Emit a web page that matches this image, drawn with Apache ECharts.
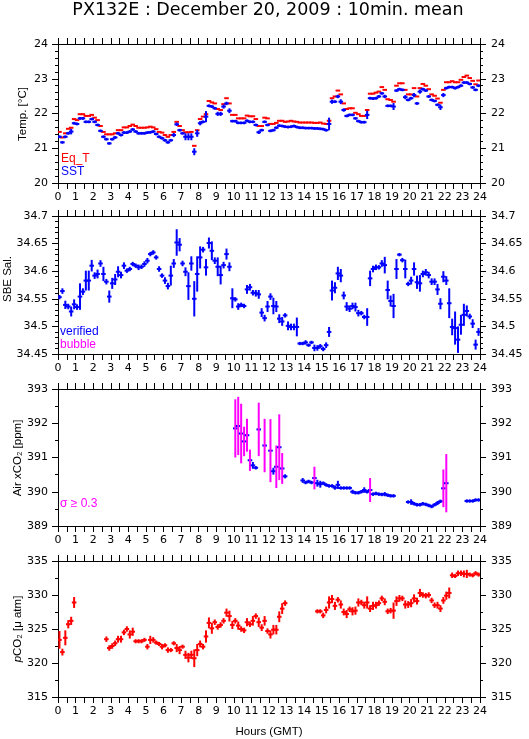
<!DOCTYPE html>
<html>
<head>
<meta charset="utf-8">
<script src="https://cdn.jsdelivr.net/npm/echarts@6/dist/echarts.min.js"></script>
<style>
body{margin:0;background:#fff}
#chart{width:529px;height:739px}
</style>
</head>
<body>
<div id="chart"></div>
<script>
// 10 minute bins, 6 per hour, one row per hour
var binsPerHour = 6;

var eqT = [
21.47,21.31,21.43,21.56,21.59,21.84,
21.81,21.98,21.98,21.93,21.93,21.96,
21.88,21.81,21.64,21.47,21.40,21.40,
21.40,21.43,21.52,21.52,21.60,21.60,
21.64,21.68,21.64,21.59,21.59,21.59,
21.60,21.62,21.60,21.55,21.47,21.45,
21.38,21.33,21.38,21.47,21.76,21.64,
21.52,21.46,21.46,21.47,21.07,21.52,
21.84,21.91,21.98,22.36,22.32,22.29,
22.13,22.10,22.27,22.44,22.29,21.96,
21.96,21.86,21.86,21.86,21.94,21.92,
21.92,21.84,21.64,21.64,21.88,21.86,
21.70,21.70,21.73,21.79,21.79,21.76,
21.77,21.79,21.77,21.76,21.74,21.74,
21.74,21.74,21.74,21.73,21.73,21.74,
21.71,21.70,21.79,22.44,22.49,22.66,
22.55,22.29,22.13,22.15,22.15,22.02,
21.98,21.93,21.93,22.10,22.57,22.57,
22.60,22.63,22.76,22.68,22.41,22.39,
22.34,22.80,22.87,22.87,22.68,22.55,
22.55,22.73,22.49,22.73,22.85,22.80,
22.70,22.55,22.51,22.43,22.31,22.68,
22.90,22.90,22.93,22.90,22.90,22.97,
23.05,23.09,23.02,22.94,22.84,22.95];

var sst = [
21.33,21.17,21.33,21.43,21.48,21.72,
21.70,21.86,21.86,21.76,21.76,21.84,
21.76,21.67,21.50,21.33,21.26,21.14,
21.26,21.31,21.43,21.38,21.45,21.45,
21.48,21.54,21.48,21.43,21.43,21.43,
21.45,21.46,21.48,21.41,21.33,21.29,
21.23,21.17,21.23,21.38,21.69,21.52,
21.43,21.33,21.33,21.33,20.90,21.43,
21.72,21.76,21.91,22.22,22.20,22.15,
21.99,21.99,22.20,22.29,22.08,21.78,
21.78,21.73,21.73,21.73,21.79,21.76,
21.76,21.67,21.46,21.52,21.76,21.67,
21.50,21.52,21.59,21.65,21.64,21.62,
21.61,21.62,21.64,21.61,21.59,21.59,
21.58,21.58,21.58,21.57,21.57,21.56,
21.55,21.52,21.70,22.34,22.34,22.49,
22.34,22.10,21.93,21.96,21.96,21.86,
21.78,21.75,21.75,21.96,22.44,22.43,
22.44,22.49,22.58,22.49,22.22,22.22,
22.20,22.66,22.70,22.68,22.47,22.39,
22.44,22.53,22.29,22.63,22.70,22.66,
22.49,22.39,22.36,22.25,22.18,22.53,
22.73,22.76,22.76,22.73,22.76,22.80,
22.89,22.89,22.85,22.75,22.68,22.80];

var sstSd = [
.04,.04,.04,.04,.08,.04,
.04,.04,.04,.04,.04,.04,
.04,.04,.04,.04,.04,.04,
.04,.04,.04,.04,.04,.04,
.04,.04,.04,.04,.04,.04,
.04,.04,.04,.04,.04,.04,
.04,.04,.04,.06,.05,.04,
.04,.10,.10,.10,.10,.10,
.06,.04,.16,.04,.04,.04,
.06,.06,.06,.05,.07,.04,
.04,.04,.04,.04,.04,.04,
.04,.04,.05,.04,.04,.04,
.04,.04,.04,.04,.04,.04,
.04,.04,.04,.04,.04,.04,
.04,.04,.04,.04,.04,.04,
.04,.04,.18,.06,.04,.05,
.07,.05,.04,.04,.04,.04,
.04,.04,.04,.12,.04,.04,
.04,.04,.04,.05,.04,.04,
.10,.04,.04,.04,.06,.04,
.04,.06,.04,.06,.04,.04,
.04,.04,.04,.04,.08,.06,
.04,.04,.04,.04,.04,.04,
.04,.04,.04,.04,.04,.04];

var sal = [
34.553,34.564,34.539,34.536,34.527,34.540,
34.535,34.554,34.563,34.583,34.583,34.610,
34.592,34.595,34.614,34.595,34.581,34.554,
34.578,34.585,34.599,34.593,34.610,34.601,
34.604,34.613,34.610,34.607,34.608,34.613,
34.619,34.631,34.634,34.625,34.604,34.592,
34.583,34.573,34.592,34.614,34.652,34.648,
34.614,34.599,34.573,34.614,34.550,34.595,
34.625,34.639,34.607,34.651,34.637,34.619,
34.608,34.593,34.611,34.631,34.608,34.551,
34.549,34.536,34.539,34.537,34.567,34.571,
34.561,34.560,34.558,34.525,34.515,34.536,
34.554,34.537,34.536,34.514,34.509,34.520,
34.501,34.499,34.499,34.499,34.469,34.469,
34.471,34.466,34.471,34.461,34.461,34.464,
34.459,34.466,34.490,34.565,34.570,34.596,
34.592,34.556,34.536,34.532,34.537,34.535,
34.524,34.524,34.517,34.517,34.587,34.604,
34.607,34.607,34.614,34.611,34.566,34.546,
34.537,34.604,34.630,34.620,34.604,34.577,
34.583,34.604,34.580,34.578,34.595,34.598,
34.593,34.581,34.581,34.567,34.541,34.590,
34.583,34.542,34.499,34.497,34.476,34.503,
34.521,34.528,34.518,34.505,34.467,34.490];

var salSd = [
.004,.005,.0075,.005,.009,.009,
.005,.024,.006,.018,.018,.0105,
.006,.008,.006,.013,.005,.011,
.01,.01,.01,.006,.006,.004,
.004,.004,.004,.005,.004,.005,
.005,.004,.004,.004,.005,.004,
.006,.006,.018,.008,.024,.012,
.005,.008,.025,.013,.032,.032,
.02,.005,.015,.01,.017,.006,
.017,.017,.006,.01,.008,.018,
.004,.006,.004,.004,.008,.006,
.005,.006,.008,.008,.006,.01,
.006,.015,.01,.008,.008,.004,
.008,.006,.006,.017,.003,.003,
.004,.003,.003,.006,.005,.004,
.004,.005,.009,.018,.01,.012,
.012,.007,.008,.006,.006,.008,
.006,.004,.004,.016,.014,.006,
.005,.004,.006,.015,.017,.01,
.022,.018,.003,.004,.017,.004,
.007,.012,.012,.015,.006,.006,
.006,.006,.006,.01,.01,.01,
.008,.027,.015,.03,.024,.018,
.02,.01,.005,.008,.009,.007];

var airCO2 = [
null,null,null,null,null,null,
null,null,null,null,null,null,
null,null,null,null,null,null,
null,null,null,null,null,null,
null,null,null,null,null,null,
null,null,null,null,null,null,
null,null,null,null,null,null,
null,null,null,null,null,null,
null,null,null,null,null,null,
null,null,null,null,null,null,
391.85,391.92,391.70,391.47,391.65,390.92,
390.77,390.70,391.82,null,391.35,null,
391.20,390.60,390.73,391.30,390.68,390.45,
null,null,null,null,null,390.33,
390.27,390.30,390.27,390.40,390.25,390.22,
390.25,390.20,390.17,390.17,390.12,390.20,
390.11,390.11,390.11,390.11,390.00,389.97,
389.97,390.00,390.05,390.00,390.05,389.93,
389.95,389.93,389.92,389.93,389.90,389.88,
389.88,null,null,null,null,389.70,
389.70,389.65,389.62,389.62,389.65,389.63,
389.60,389.57,389.62,389.67,389.72,390.10,
390.25,null,null,null,null,null,
null,389.73,389.73,389.73,389.76,389.76];

var airSd = [
0,0,0,0,0,0, 0,0,0,0,0,0, 0,0,0,0,0,0, 0,0,0,0,0,0, 0,0,0,0,0,0,
0,0,0,0,0,0, 0,0,0,0,0,0, 0,0,0,0,0,0, 0,0,0,0,0,0, 0,0,0,0,0,0,
.85,.85,.87,.43,.48,.31,
.10,.05,.78,0,.78,0,
.92,.10,.62,.96,.45,.06,
0,0,0,0,0,.07,
.05,.05,.05,.33,.10,.10,
.05,.05,.05,.05,.06,.12,
.05,.05,.05,.05,.06,.05,
.05,.05,.08,.05,.35,.05,
.05,.05,.05,.06,.05,.05,
.05,0,0,0,0,.05,
.08,.05,.05,.05,.05,.05,
.05,.05,.05,.06,.05,.55,
.85,0,0,0,0,0,
0,.05,.05,.05,.05,.05];

var pCO2 = [
323.4,321.6,323.7,325.7,326.2,328.9,
null,null,null,null,null,null,
null,null,null,null,323.5,322.2,
322.5,322.9,323.5,323.5,324.5,325.0,
324.2,324.6,323.2,323.2,323.2,323.4,
322.4,323.4,323.4,323.0,322.8,322.4,
322.6,321.9,321.9,322.9,322.2,321.9,
322.4,321.2,320.8,321.2,320.7,321.9,
322.8,322.4,323.9,325.9,325.1,326.0,
325.3,325.6,326.2,327.4,326.9,325.6,
326.2,325.5,325.0,324.8,326.0,325.7,
326.2,326.9,326.0,325.2,326.2,324.7,
324.2,324.9,324.9,326.8,328.0,328.8,
null,null,null,null,null,null,
null,null,null,null,327.6,327.6,
327.0,327.8,328.9,329.4,328.4,329.3,
328.6,327.5,327.2,327.9,327.6,327.7,
328.9,328.9,328.5,328.9,328.0,328.4,
328.5,328.8,329.5,329.0,327.6,327.7,
327.7,329.1,329.5,329.5,328.6,328.6,
328.8,329.5,329.1,330.3,330.0,329.9,
330.0,329.2,328.5,328.5,328.0,329.2,
329.9,330.3,332.9,332.8,333.2,333.2,
333.1,333.1,333.0,332.9,333.2,333.0];

var pCO2Sd = [
1.3,.5,1.1,.6,.6,.8,
0,0,0,0,0,0,
0,0,0,0,.4,.4,
.4,.4,.5,.5,.4,.4,
.6,.6,.3,.3,.3,.3,
.4,.6,.4,.3,.3,.4,
.3,.4,.3,.3,.6,.6,
.3,.6,.7,.6,1.3,.9,
.5,.4,.9,.8,.8,.4,
.4,.4,.4,.6,.8,.6,
.4,.6,.4,.4,.6,.4,
.7,.4,.7,.5,.7,.4,
.6,.7,.7,.8,.8,.4,
0,0,0,0,0,0,
0,0,0,0,.3,.3,
.4,.5,.9,.6,.6,.4,
.6,.5,.6,.4,.6,.6,
.6,.4,.5,.9,.5,.6,
.5,.4,.4,.5,.4,.4,
1.2,.7,.5,.4,.6,.5,
.6,.6,.5,.6,.4,.4,
.4,.4,.4,.5,.5,.5,
.6,.8,.4,.3,.4,.4,
.5,.6,.3,.3,.3,.3];

var FONT = '"DejaVu Sans", sans-serif';
var SANS = '"Liberation Sans", Arial, sans-serif';
var RED = '#ff0000', BLUE = '#0000ff', MAGENTA = '#ff00ff';

// nameX / nameY: centre of the rotated y axis title
var panels = [
  {top: 44,  height: 139, min: 20,    max: 24,   interval: 1,    minor: 5, name: 'Temp. [°C]',        nameX: 23,  nameY: 114},
  {top: 216, height: 138, min: 34.45, max: 34.7, interval: 0.05, minor: 5, name: 'SBE Sal.',          nameX: 8,   nameY: 279},
  {top: 389, height: 137, min: 389,   max: 393,  interval: 1,    minor: 2, name: 'Air xCO₂ [ppm]',    nameX: 18,  nameY: 458},
  {top: 561, height: 137, min: 315,   max: 335,  interval: 5,    minor: 2, name: '{i|p}CO₂ [μ atm]', nameX: 18,  nameY: 629}
];

function toData(vals, sds) {
  var out = [];
  for (var i = 0; i < vals.length; i++) {
    if (vals[i] == null) continue;
    out.push([(i + 0.5) / binsPerHour, vals[i], sds ? sds[i] : 0]);
  }
  return out;
}

// horizontal dash across the bin plus vertical bar for the std dev
function plusMark(hColor, vColorFn) {
  var half = 0.13;
  return function (params, api) {
    var t = api.value(0), v = api.value(1), sd = api.value(2);
    var a = api.coord([t - half, v]);
    var b = api.coord([t + half, v]);
    var kids = [{
      type: 'line',
      shape: {x1: a[0], y1: a[1], x2: b[0], y2: b[1]},
      style: {stroke: hColor, lineWidth: 2}
    }];
    if (sd > 0) {
      var lo = api.coord([t, v - sd]);
      var hi = api.coord([t, v + sd]);
      kids.push({
        type: 'line',
        shape: {x1: lo[0], y1: lo[1], x2: hi[0], y2: hi[1]},
        style: {stroke: vColorFn(sd), lineWidth: 2}
      });
    }
    return {type: 'group', children: kids};
  };
}

var grids = [], xAxes = [], yAxes = [], axisTitles = [];
panels.forEach(function (p, gi) {
  grids.push({left: 58, width: 422, top: p.top, height: p.height});
  ['bottom', 'top'].forEach(function (pos) {
    var isBottom = pos === 'bottom';
    xAxes.push({
      type: 'value', gridIndex: gi, position: pos, min: 0, max: 24, interval: 1,
      axisLine: {show: true, onZero: false, lineStyle: {color: '#000', width: 1}},
      axisTick: {show: true, length: 6, lineStyle: {color: '#000'}},
      minorTick: {show: true, splitNumber: 2, length: 6, lineStyle: {color: '#000'}},
      axisLabel: {show: isBottom, color: '#000', fontSize: 11, fontFamily: FONT, margin: 9,
                  showMinLabel: true, showMaxLabel: true},
      splitLine: {show: false},
      name: (isBottom && gi === 3) ? 'Hours (GMT)' : '',
      nameLocation: 'middle', nameGap: 29,
      nameTextStyle: {color: '#000', fontSize: 11.5, fontFamily: SANS}
    });
  });
  ['left', 'right'].forEach(function (pos) {
    yAxes.push({
      type: 'value', gridIndex: gi, position: pos, min: p.min, max: p.max, interval: p.interval,
      axisLine: {show: true, onZero: false, lineStyle: {color: '#000', width: 1}},
      axisTick: {show: true, length: 6, lineStyle: {color: '#000'}},
      minorTick: {show: true, splitNumber: p.minor, length: 3, lineStyle: {color: '#000'}},
      axisLabel: {color: '#000', fontSize: 11, fontFamily: FONT, margin: pos === 'left' ? 10 : 11,
                  showMinLabel: true, showMaxLabel: true},
      splitLine: {show: false}
    });
  });
  axisTitles.push({
    type: 'text', x: p.nameX, y: p.nameY, rotation: Math.PI / 2,
    style: {text: p.name, fill: '#000', font: '11.5px ' + SANS, align: 'center', verticalAlign: 'middle',
            rich: {i: {fontStyle: 'italic', fontSize: 11.5, fontFamily: SANS, fill: '#000'}}}
  });
});

function series(gi, data, render) {
  return {
    type: 'custom', xAxisIndex: gi * 2, yAxisIndex: gi * 2, clip: true,
    renderItem: render, data: data, animation: false, silent: true
  };
}

var blue = function () { return BLUE; };
var seriesList = [
  series(0, toData(eqT, null), plusMark(RED, blue)),
  series(0, toData(sst, sstSd), plusMark(BLUE, blue)),
  series(1, toData(sal, salSd), plusMark(BLUE, blue)),
  series(2, toData(airCO2, airSd), plusMark(BLUE, function (sd) { return sd >= 0.3 ? MAGENTA : BLUE; })),
  series(3, toData(pCO2, pCO2Sd), plusMark(RED, function () { return RED; }))
];

function label(x, y, text, color) {
  return {type: 'text', x: x, y: y, style: {text: text, fill: color, font: '12px ' + SANS, verticalAlign: 'top'}};
}

var chart = echarts.init(document.getElementById('chart'));
chart.setOption({
  animation: false,
  backgroundColor: '#fff',
  grid: grids,
  xAxis: xAxes,
  yAxis: yAxes,
  series: seriesList,
  graphic: axisTitles.concat([
    {type: 'text', x: 268, y: 1, style: {text: 'PX132E : December 20, 2009 : 10min. mean', fill: '#000',
      font: '17.5px ' + FONT, align: 'center', verticalAlign: 'top'}},
    label(61, 153, 'Eq_T', RED),
    label(61, 166, 'SST', BLUE),
    label(60, 326, 'verified', BLUE),
    label(60, 339, 'bubble', MAGENTA),
    label(60, 498, 'σ ≥ 0.3', MAGENTA)
  ])
});
</script>
</body>
</html>
